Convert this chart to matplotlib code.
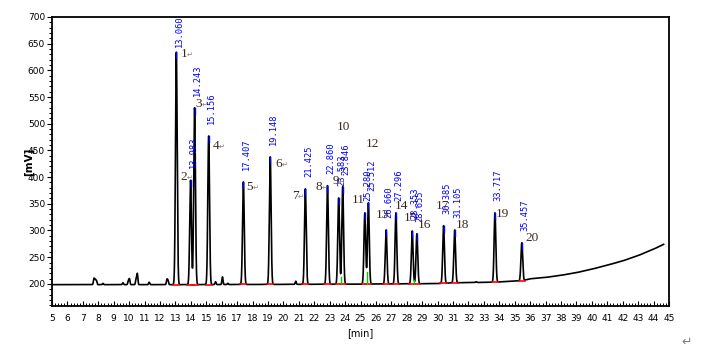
import numpy as np
import matplotlib
matplotlib.use('Agg')
import matplotlib.pyplot as plt
from matplotlib.ticker import MultipleLocator, FixedLocator

# ---------------- data ----------------
peak_numbers = [str(i) for i in range(1, 21)]
retention_times = [13.060, 13.983, 14.243, 15.156, 17.407, 19.148, 21.425, 22.860,
                   23.583, 23.846, 25.280, 25.512, 26.660, 27.296, 28.353, 28.655,
                   30.385, 31.105, 33.717, 35.457]
peak_heights = [634, 394, 530, 477, 391, 438, 378, 384, 361, 382, 333, 352,
                301, 333, 299, 294, 309, 301, 333, 277]

minor_times = [7.72, 7.80, 7.88, 8.30, 9.60, 9.95, 10.02, 10.45, 10.53, 11.30,
               12.45, 12.52, 15.60, 16.05, 16.40, 20.80, 32.50]
minor_heights = [210, 208, 206, 201, 202, 205, 209, 209, 219, 203,
                 208, 206, 204, 213, 201, 205, 204]

baseline_times = [5, 13, 20, 25, 30, 31, 33.6, 35.5, 36, 37, 38, 39, 40, 41, 42, 43, 44, 44.65]
baseline_values = [198.5, 198.5, 199, 199.5, 200.5, 202, 203, 206, 209.5, 212, 216,
                   221, 227.5, 235, 243, 253, 265, 274]

valley_times = [23.72, 25.40, 28.50]
valley_heights = [213, 222, 207]

x_ticks = list(range(5, 46))
y_ticks = list(range(200, 701, 50))

# ---------------- layout (pixel offsets of number labels from apex) ----------------
label_dx = [7.7, -6.6, 4.4, 7.3, 6.6, 8.7, -10.4, -8.5, -2.7, 0.3,
            -6.8, 3.6, -4, 6, -2, 8, -0.6, 7.3, 7, 10]
label_dy = [1.8, -3.4, -3.8, 10, 5, 7, 7, 1.3, -17, -60,
            -13, -59, -15, -7, -13, -9, -20, -5, 1, -5]
rt_gap = [5] + [12] * 19

PT = 0.72  # points per pixel at 100 dpi

fig = plt.figure(figsize=(7.1, 3.54), dpi=100)
ax = fig.add_axes([52 / 710, 48 / 354, 617 / 710, 289 / 354])

t = np.linspace(5, 44.65, 24000)
base = np.interp(t, baseline_times, baseline_values)
y = base.copy()
sig_main = 0.055
for rt, h in zip(retention_times, peak_heights):
    b = np.interp(rt, baseline_times, baseline_values)
    y += (h - b) * np.exp(-0.5 * ((t - rt) / sig_main) ** 2)
sig_minor = 0.035
for rt, h in zip(minor_times, minor_heights):
    b = np.interp(rt, baseline_times, baseline_values)
    y += (h - b) * np.exp(-0.5 * ((t - rt) / sig_minor) ** 2)

ax.plot(t, y, color='black', lw=1.2, zorder=3)

# red baseline segments and green split lines
for rt in retention_times:
    b = np.interp(rt, baseline_times, baseline_values)
    ax.plot([rt - 0.2, rt + 0.2], [b, b], color='red', lw=1.2, zorder=4)
for vt, vh in zip(valley_times, valley_heights):
    b = np.interp(vt, baseline_times, baseline_values)
    ax.plot([vt, vt], [b, vh], color='#00cc00', lw=1.0, zorder=4)

# blue apex marks and retention time labels
for i, (rt, h) in enumerate(zip(retention_times, peak_heights)):
    ax.plot([rt, rt], [h - 11, h], color='blue', lw=1.0, zorder=5)
    ax.annotate(f"{rt:.3f}", xy=(rt, h), xytext=(3 * PT, rt_gap[i] * PT),
                textcoords='offset points', rotation=90, ha='center', va='bottom',
                color='blue', fontsize=6.3, family='DejaVu Sans Mono', zorder=6)

# peak number labels
for i, (num, rt, h) in enumerate(zip(peak_numbers, retention_times, peak_heights)):
    ax.annotate(num, xy=(rt, h), xytext=(label_dx[i] * PT, -label_dy[i] * PT),
                textcoords='offset points', ha='center', va='center',
                color='#3b2a1a', fontsize=9.5, family='Liberation Serif', zorder=6)
    if i < 9:
        ax.annotate('\u21b5', xy=(rt, h),
                    xytext=((label_dx[i] + 6) * PT, -(label_dy[i] + 1) * PT),
                    textcoords='offset points', ha='center', va='center',
                    color='#808080', fontsize=5, family='DejaVu Sans', zorder=6)

ax.set_xlim(5, 45)
ax.set_ylim(158.5, 700)

ax.xaxis.set_major_locator(FixedLocator(x_ticks))
ax.xaxis.set_minor_locator(MultipleLocator(0.2))
ax.yaxis.set_major_locator(FixedLocator(y_ticks))
ax.yaxis.set_minor_locator(MultipleLocator(10))
ax.set_xticklabels([str(v) for v in x_ticks])
ax.set_yticklabels([str(v) for v in y_ticks])

tickfont = ['Liberation Sans Narrow', 'DejaVu Sans']
ax.tick_params(axis='x', which='major', direction='in', length=3.5, width=0.8,
               labelsize=6.5, pad=6)
ax.tick_params(axis='x', which='minor', direction='in', length=2.2, width=0.7)
ax.tick_params(axis='y', which='major', direction='out', length=3.5, width=0.8,
               labelsize=6.5, pad=1.5)
ax.tick_params(axis='y', which='minor', direction='out', length=2, width=0.7)
for lab in ax.get_xticklabels() + ax.get_yticklabels():
    lab.set_family(tickfont)

for sp in ax.spines.values():
    sp.set_linewidth(1.3)
    sp.set_color('black')

fig.text(360 / 710, 1 - 333 / 354, '[min]', ha='center', va='center',
         fontsize=7, family=tickfont)
fig.text(29 / 710, 1 - 162 / 354, '[mV]', ha='center', va='center', rotation=90,
         fontsize=7.5, family=tickfont, weight='bold')
fig.text(687 / 710, 1 - 342 / 354, '\u21b5', ha='center', va='center',
         fontsize=9, color='#808080', family='DejaVu Sans')

fig.savefig('out.png', dpi=100, facecolor='white')
